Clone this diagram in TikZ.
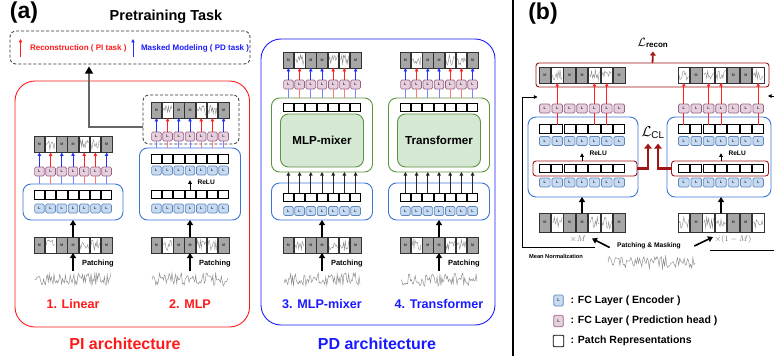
\documentclass[tikz,border=0pt]{standalone}
\usepackage{fontspec}
\setmainfont{Liberation Sans}
\usetikzlibrary{arrows.meta,calc}

\definecolor{piRed}{HTML}{FF1A1A}
\definecolor{pdBlue}{HTML}{1A1AFF}
\definecolor{encStroke}{HTML}{5F86BC}
\definecolor{encFill}{HTML}{C6DAF2}
\definecolor{headStroke}{HTML}{996185}
\definecolor{headFill}{HTML}{E6D0DE}
\definecolor{contBlue}{HTML}{3A76D6}
\definecolor{grnStroke}{HTML}{5E9440}
\definecolor{grnFill}{HTML}{D5E8D4}
\definecolor{darkRed}{HTML}{A31616}
\definecolor{maskGray}{HTML}{A6A6A6}
\definecolor{waveGray}{HTML}{8A8A8A}
\definecolor{arrRed}{HTML}{FF2020}
\definecolor{arrBlue}{HTML}{2030FF}

\newcommand\fsz[1]{\fontsize{#1}{#1}\selectfont}

% cell geometry (changed per panel)
\def\cw{10.6pt}\def\cwn{10.6}\def\ph{16pt}\def\phn{16}
\def\sqw{10.2pt}\def\sqh{8.6pt}\def\lw{9.6pt}\def\lh{9pt}

\tikzset{
  base/.style={inner sep=0pt, outer sep=0pt},
  patM/.style={base, draw=black!80, fill=maskGray, line width=0.7pt,
    minimum width=\cw, minimum height=\ph, font=\fsz{3.6}\bfseries, text=black!80},
  patW/.style={base, draw=black!80, fill=white, line width=0.7pt,
    minimum width=\cw, minimum height=\ph,
    path picture={\draw[waveGray,line width=0.4pt]
      ([xshift=1pt]path picture bounding box.west)
      \foreach \k in {1,...,10}{ -- ([xshift={1pt+\k/10*(\cwn-2)*1pt},
        yshift={rand*0.33*\phn*1pt}]path picture bounding box.west)};}},
  sqr/.style={base, draw=black, fill=white, line width=0.7pt,
    minimum width=\sqw, minimum height=\sqh},
  encL/.style={base, draw=encStroke, fill=encFill, line width=0.7pt,
    rounded corners=1.4pt, minimum width=\lw, minimum height=\lh,
    font=\fsz{3.8}\bfseries, text=black!85},
  headL/.style={base, draw=headStroke, fill=headFill, line width=0.7pt,
    rounded corners=1.4pt, minimum width=\lw, minimum height=\lh,
    font=\fsz{3.8}\bfseries, text=black!85},
  cont/.style={base, draw=contBlue, line width=0.9pt, rounded corners=8pt},
  grnOut/.style={base, draw=grnStroke, fill=white, line width=0.9pt, rounded corners=8pt},
  grnIn/.style={base, draw=grnStroke, fill=grnFill, line width=0.9pt,
    rounded corners=8pt, font=\fsz{11.6}\bfseries},
  redrow/.style={base, draw=darkRed, line width=0.9pt, rounded corners=3pt},
  dashbox/.style={base, draw=black!80, dash pattern=on 3pt off 2pt,
    line width=0.8pt, rounded corners=6pt},
  outarr/.style={line width=0.8pt, -{Triangle[width=3.4pt,length=3.4pt]}},
  fatarr/.style={line width=1.6pt, -{Triangle[width=6pt,length=5pt]}},
  thinarr/.style={line width=0.8pt, -{Triangle[width=3.6pt,length=3.6pt]}},
  sig/.style={waveGray, line width=0.45pt},
  colname/.style={font=\fsz{12.6}\bfseries},
  archname/.style={font=\fsz{16}\bfseries},
  patchtxt/.style={font=\fsz{7.5}\bfseries, anchor=west},
  relutxt/.style={font=\fsz{6.6}\bfseries, anchor=west},
}

% rows of seven cells centred on #2
\newcommand\patchrow[5]{\foreach \t [count=\i] in {#5}{%
  \if\t M\node[patM] (#1\i) at ({#2+(\i-4)*#4},#3) {M};%
  \else\node[patW] (#1\i) at ({#2+(\i-4)*#4},#3) {};\fi}}
\newcommand\sqrow[4]{\foreach \i in {1,...,7}{\node[sqr] (#1\i) at ({#2+(\i-4)*#4},#3) {};}}
\newcommand\encrow[4]{\foreach \i in {1,...,7}{\node[encL] (#1\i) at ({#2+(\i-4)*#4},#3) {L};}}
\newcommand\headrow[4]{\foreach \i in {1,...,7}{\node[headL] (#1\i) at ({#2+(\i-4)*#4},#3) {L};}}
% coloured outputs: blue for masked patches, red for the others
\newcommand\headarrows[4]{\foreach \t [count=\i] in {#4}{%
  \if\t M\def\cc{arrBlue}\else\def\cc{arrRed}\fi
  \draw[outarr,color=\cc] (#1\i.north) -- (#2\i.south);
  \draw[color=\cc!60,line width=0.8pt] (#1\i.south) -- (#1\i.south |- #3.north);}}
% a noisy raw signal
\newcommand\signal[4]{\pgfmathsetseed{#1}%
  \draw[sig] (#2,#3) \foreach \k in {1,...,80}{ -- ({#2+\k*#4/80},{#3+6.5*rand}) };}
% patching stage shared by the four models of panel (a)
\newcommand\inputstage[3]{% prefix, centre x, seed
  \patchrow{#1i}{#2}{245}{11.2}{M,W,M,M,W,W,M}
  \coordinate (#1w) at (#2,270.5);
  \draw[fatarr] (#1w) -- (#1i4.south);
  \node[patchtxt] (#1pt) at ({#2+5.5},263.5) {Patching};
  \signal{#3}{#2-38}{279.5}{76}}

\begin{document}
\begin{tikzpicture}[x=1pt,y=-1pt]
\useasboundingbox (0,0) rectangle (774,356);
\fill[white] (0,0) rectangle (774,356);

% ---------------- panel (a) ----------------
\node[font=\fsz{23}\bfseries] (alab) at (24,13) {(a)};
\node[font=\fsz{14.5}\bfseries] (ptitle) at (166,16.5) {Pretraining Task};
\node[dashbox, minimum width=240pt, minimum height=33pt] (ptask) at (130,47.5) {};
\node[font=\fsz{8}\bfseries, text=piRed, anchor=west] (rec) at (26.5,48) {Reconstruction ( PI task )};
\node[font=\fsz{8}\bfseries, text=pdBlue, anchor=west] (msk) at (137.5,48) {Masked Modeling ( PD task )};
\draw[outarr, arrRed] ($(rec.west)+(-6,9)$) -- ++(0,-18);
\draw[outarr, arrBlue] ($(msk.west)+(-4.5,9)$) -- ++(0,-18);

\draw[piRed, line width=0.9pt, rounded corners=20pt] (15,81) rectangle (249.5,327);
\draw[pdBlue, line width=0.9pt, rounded corners=20pt] (261,39) rectangle (495,325);
\node[archname, text=piRed] (piarch) at (125,344) {PI architecture};
\node[archname, text=pdBlue] (pdarch) at (377,344) {PD architecture};

% 1. Linear
\node[cont, minimum width=100pt, minimum height=36pt] (k1) at (73,202) {};
\patchrow{o1-}{73}{144.5}{11.2}{M,W,M,M,W,W,M}
\headrow{h1-}{73}{171.5}{11.2}
\sqrow{s1-}{73}{195}{11.2}
\encrow{e1-}{73}{208.5}{11.2}
\headarrows{h1-}{o1-}{k1}{M,W,M,M,W,W,M}
\inputstage{c1}{73}{11}
\draw[fatarr] (c1i4.north) -- (k1.south -| c1i4);
\node[colname, text=piRed] (n1) at (73,304) {1. Linear};

% 2. MLP
\node[dashbox, minimum width=96pt, minimum height=49pt] (d2) at (191,119.5) {};
\node[cont, minimum width=101pt, minimum height=72pt] (k2) at (190,184) {};
\patchrow{o2-}{190}{110}{11.2}{M,W,M,M,W,W,M}
\headrow{h2-}{190}{136.5}{11.2}
\sqrow{s2a-}{190}{159}{11.2}
\encrow{e2a-}{190}{170.5}{11.2}
\sqrow{s2b-}{190}{194.5}{11.2}
\encrow{e2b-}{190}{208.5}{11.2}
\draw[thinarr] (s2b-4.north) -- ++(0,-10);
\node[relutxt] (r2) at (194,182.5) {ReLU};
\headarrows{h2-}{o2-}{k2}{M,W,M,M,W,W,M}
\inputstage{c2}{190}{23}
\draw[fatarr] (c2i4.north) -- (k2.south -| c2i4);
\node[colname, text=piRed] (n2) at (190,304) {2. MLP};

% link from the MLP head to the pretraining tasks
\coordinate (jn) at (89,127);
\draw[black!60, line width=1.3pt, -{Triangle[width=8pt,length=7pt,color=black]}, shorten >=2.5pt]
  (d2.west |- jn) -- (jn) -- (jn |- ptask.south);

% 3. MLP-mixer and 4. Transformer
\foreach \cx/\nm/\lab/\sd [count=\j from 3] in {322/MLP-mixer/3. MLP-mixer/37, 439/Transformer/4. Transformer/41}{
  \node[grnOut, minimum width=101pt, minimum height=74pt] (g\j) at (\cx,135) {};
  \node[grnIn, minimum width=83pt, minimum height=53pt] (gi\j) at (\cx,140.5) {\nm};
  \node[cont, minimum width=101pt, minimum height=37pt] (k\j) at (\cx,201.5) {};
  \patchrow{o\j-}{\cx}{60}{11.2}{M,W,M,M,W,W,M}
  \headrow{h\j-}{\cx}{84.5}{11.2}
  \sqrow{t\j-}{\cx}{107.5}{11.2}
  \sqrow{s\j-}{\cx}{197.5}{11.2}
  \encrow{e\j-}{\cx}{211}{11.2}
  \headarrows{h\j-}{o\j-}{g\j}{M,W,M,M,W,W,M}
  \foreach \i in {1,...,7}{\draw[thinarr, black!85] (s\j-\i.north) -- (s\j-\i.north |- g\j.south);}
  \inputstage{c\j}{\cx}{\sd}
  \draw[fatarr] (c\j i4.north) -- (k\j.south -| c\j i4);
  \node[colname, text=pdBlue] (n\j) at (\cx,304) {\lab};
}

% separator
\draw[line width=1.6pt] (513,0) -- (513,356);

% ---------------- panel (b) ----------------
\def\cw{11.6pt}\def\cwn{11.6}\def\sqw{11.2pt}\def\lw{10.6pt}
\node[font=\fsz{23}\bfseries] (blab) at (543,14) {(b)};
\node[font=\fsz{12}] (lrec) at (653,43) {$\mathcal{L}_{\mathbf{recon}}$};
\node[redrow, minimum width=233pt, minimum height=24pt] (rbox) at (652.5,75) {};
\draw[darkRed, line width=1.8pt, -{Triangle[width=6pt,length=4pt]}] (rbox.north) -- (lrec.south);
\patchrow{ra-}{582}{75}{12.4}{M,W,M,M,W,W,M}
\patchrow{rb-}{721}{75}{12.4}{W,M,W,W,M,M,W}

\node[cont, minimum width=110pt, minimum height=80pt] (kl) at (583,157) {};
\node[cont, minimum width=104pt, minimum height=80pt] (kr) at (719,157) {};
\node[redrow, minimum width=104pt, minimum height=15pt] (zl) at (585,168.5) {};
\node[redrow, minimum width=97pt, minimum height=15pt] (zr) at (720,168.5) {};
\foreach \s/\cx in {l/582, r/721}{
  \headrow{bh\s-}{\cx}{108.5}{12.4}
  \sqrow{bs\s-}{\cx}{129}{12.4}
  \encrow{be\s-}{\cx}{141}{12.4}
  \sqrow{bt\s-}{\cx}{168.5}{12.4}
  \encrow{bf\s-}{\cx}{182.5}{12.4}
  \draw[thinarr] (bt\s-4.north) ++(0,-3) -- ++(0,-8);
  \node[relutxt] (br\s) at (\cx+4,153) {ReLU};
}
\foreach \i in {2,5,6}{
  \draw[outarr, arrRed] (bhl-\i.north) -- (ra-\i.south);
  \draw[arrRed, line width=0.8pt] (bsl-\i.north) -- (bhl-\i.south);}
\foreach \i in {1,3,4,7}{
  \draw[outarr, arrRed] (bhr-\i.north) -- (rb-\i.south);
  \draw[arrRed, line width=0.8pt] (bsr-\i.north) -- (bhr-\i.south);}

\node[font=\fsz{14}] (lcl) at (653,133) {$\mathcal{L}_{\mathrm{CL}}$};
\draw[darkRed, line width=2.4pt, -{Triangle[width=7.5pt,length=5pt]}]
  (zl.east) -| ([xshift=-5pt,yshift=-1pt]lcl.south);
\draw[darkRed, line width=2.4pt, -{Triangle[width=7.5pt,length=5pt]}]
  (zr.west) -| ([xshift=5pt,yshift=-1pt]lcl.south);

\def\ph{19pt}\def\phn{19}
\patchrow{pa-}{582}{222.5}{12.4}{M,W,M,M,W,W,M}
\patchrow{pb-}{721}{222.5}{12.4}{W,M,W,W,M,M,W}
\draw[fatarr] (pa-4.north) -- (kl.south -| pa-4);
\draw[fatarr] (pb-4.north) -- (kr.south -| pb-4);
\node[text=black!55, font=\fsz{8}] (xm) at (578,239.5) {$\times M$};
\node[text=black!55, font=\fsz{8}] (xom) at (733,239.5) {$\times(1-M)$};

\node[font=\fsz{6.7}\bfseries] (pm) at (649,246) {Patching \& Masking};
\coordinate (tgl) at (592,238.5);
\coordinate (tgr) at (713,237);
\draw[fatarr] ($(pm.west)+(-4,1.5)$) -- (tgl);
\draw[fatarr] ($(pm.east)+(10,0)$) -- (tgr);
\signal{59}{608}{262.5}{87}

% mean normalization path
\node[font=\fsz{5.7}\bfseries] (mn) at (556,256) {Mean Normalization};
\coordinate (mnA) at (595,247);
\coordinate (mnB) at (522,247);
\coordinate (mnC) at (522,97);
\coordinate (mnD) at (537.5,97);
\draw[line width=0.8pt, -{Triangle[width=3.6pt,length=3.6pt]}] (mnA) -- (mnB) -- (mnC) -- (mnD);
\coordinate (mnE) at (710,250);
\coordinate (mnF) at (775,250);
\coordinate (mnG) at (775,96);
\coordinate (mnH) at (768,96);
\draw[line width=0.8pt] (mnE) -- (mnF);
\draw[line width=0.8pt, -{Triangle[width=3.6pt,length=3.6pt]}] (mnG) -- (mnH);

% legend
\node[encL, minimum width=9.5pt, minimum height=11pt, font=\fsz{4}\bfseries] (lg1) at (558.5,300.5) {L};
\node[headL, minimum width=9.5pt, minimum height=11.5pt, font=\fsz{4}\bfseries] (lg2) at (558.5,321) {L};
\node[base, draw=black, line width=0.8pt, rounded corners=1pt, minimum width=10.5pt, minimum height=11.5pt] (lg3) at (558.5,341) {};
\node[font=\fsz{10.5}\bfseries, anchor=west] (lt1) at (567,300.5) {: FC Layer ( Encoder )};
\node[font=\fsz{10.5}\bfseries, anchor=west] (lt2) at (567,321) {: FC Layer ( Prediction head )};
\node[font=\fsz{10.5}\bfseries, anchor=west] (lt3) at (567,341) {: Patch Representations};
\end{tikzpicture}
\end{document}
